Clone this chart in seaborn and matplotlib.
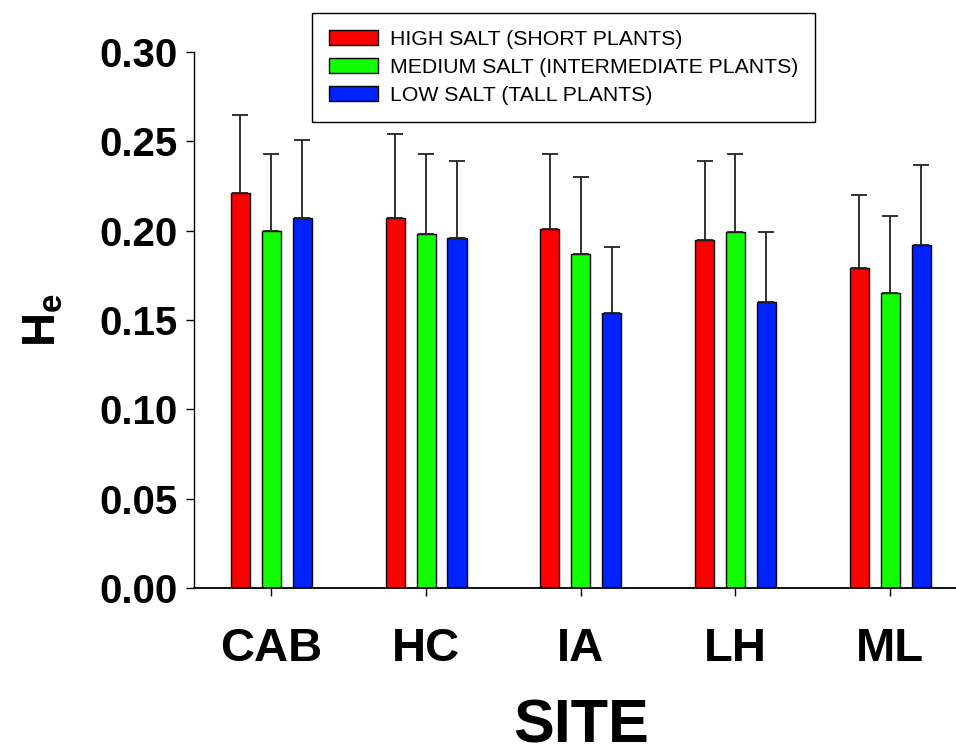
import matplotlib
matplotlib.use("Agg")
import matplotlib.pyplot as plt
import seaborn as sns
import pandas as pd
import numpy as np

# Expected heterozygosity by site and salt level (mean and upper error)
sites = ["CAB", "HC", "IA", "LH", "ML"]
groups = ["HIGH SALT (SHORT PLANTS)",
          "MEDIUM SALT (INTERMEDIATE PLANTS)",
          "LOW SALT (TALL PLANTS)"]
high_mean = [0.221, 0.207, 0.201, 0.195, 0.179]
high_err = [0.044, 0.047, 0.042, 0.044, 0.041]
med_mean = [0.200, 0.198, 0.187, 0.199, 0.165]
med_err = [0.043, 0.045, 0.043, 0.044, 0.043]
low_mean = [0.207, 0.196, 0.154, 0.160, 0.192]
low_err = [0.044, 0.043, 0.037, 0.039, 0.045]
colors = ["#FF0000", "#11FF00", "#0022FF"]
y_ticks = [0.00, 0.05, 0.10, 0.15, 0.20, 0.25, 0.30]

means = [high_mean, med_mean, low_mean]
errs = [high_err, med_err, low_err]
df = pd.DataFrame({
    "site": np.repeat([sites], 3, axis=0).ravel(),
    "group": np.repeat(groups, len(sites)),
    "He": np.concatenate(means),
})

sns.set_style("ticks")
plt.rcParams["font.family"] = ["Liberation Sans", "DejaVu Sans"]
plt.rcParams["mathtext.fontset"] = "custom"
plt.rcParams["mathtext.rm"] = "Liberation Sans"
plt.rcParams["mathtext.bf"] = "Liberation Sans:bold"
plt.rcParams["text.color"] = "black"
plt.rcParams["axes.labelcolor"] = "black"

fig = plt.figure(figsize=(9.56, 7.54), dpi=100)
ax = fig.add_axes([194 / 956, 166 / 754, 773.5 / 956, 536 / 754])

sns.barplot(data=df, x="site", y="He", hue="group", hue_order=groups,
            palette=colors, width=0.6, gap=0.385, edgecolor="black",
            linewidth=1.0, errorbar=None, ax=ax, saturation=1)

# upper-only error bars on each bar
for cont, e in zip(ax.containers, errs):
    xs = [p.get_x() + p.get_width() / 2 for p in cont.patches]
    hs = [p.get_height() for p in cont.patches]
    ax.errorbar(xs, hs, yerr=[np.zeros(len(e)), e], fmt="none",
                ecolor="#222222", elinewidth=1.3, capsize=5.8,
                capthick=1.3, zorder=1)

ax.set_xlim(-0.5, 4.5)
ax.set_ylim(0, 0.30)
ax.set_yticks(y_ticks)
ax.set_yticklabels([f"{v:.2f}" for v in y_ticks])
sns.despine(ax=ax)
for s in ("left", "bottom"):
    ax.spines[s].set_color("black")
ax.spines["left"].set_linewidth(1.0)
ax.spines["bottom"].set_linewidth(1.3)

ax.tick_params(axis="y", direction="out", length=6, width=1, pad=6,
               labelsize=29, colors="black")
ax.tick_params(axis="x", direction="out", length=6, width=1, pad=22,
               labelsize=34, colors="black")
for lab in ax.get_yticklabels() + ax.get_xticklabels():
    lab.set_fontweight("bold")

ax.set_xlabel("SITE", fontsize=44, fontweight="bold", labelpad=20,
              color="black")
ax.set_ylabel(r"$\mathbf{H}_{\mathbf{e}}$", fontsize=34, labelpad=24,
              color="black")

handles, labels = ax.get_legend_handles_labels()
if ax.get_legend() is not None:
    ax.get_legend().remove()
leg = ax.legend(handles, labels, loc="upper left",
                bbox_to_anchor=(312 / 956, 1 - 13 / 754),
                bbox_transform=fig.transFigure, borderaxespad=0,
                fontsize=15.3, frameon=True, fancybox=False, framealpha=1,
                edgecolor="black", handlelength=2.3, handleheight=0.7,
                handletextpad=0.55, labelspacing=0.42, borderpad=0.8)
leg.get_frame().set_linewidth(1.0)

fig.savefig("out.png", dpi=100)
